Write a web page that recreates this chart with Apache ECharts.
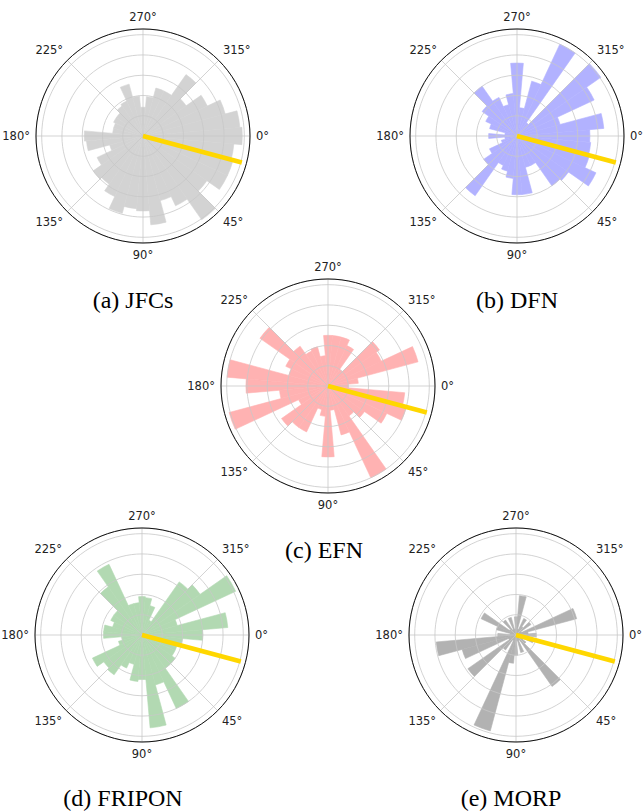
<!DOCTYPE html>
<html><head><meta charset="utf-8">
<script src="https://cdn.jsdelivr.net/npm/echarts@6/dist/echarts.min.js"></script>
<style>html,body{margin:0;padding:0;background:#fff}#c{width:643px;height:811px}</style>
</head><body><div id="c"></div>
<script>
// bin centres (degrees, clockwise from east)
const binAngles = [0,10,20,30,40,50,60,70,80,90,100,110,120,130,140,150,160,170,
                   180,190,200,210,220,230,240,250,260,270,280,290,300,310,320,330,340,350];
const angleTicks = [0,45,90,135,180,225,270,315];
// radial values per bin (grid ring = 1)
const jfcs   = [4.9,4.5,4.6,4.6,3.85,5.05,3.8,3.3,4.4,3.7,3.6,3.95,3.3,2.9,3.0,2.5,1.7,2.8,
                2.9,1.5,1.5,1.6,1.6,1.8,1.9,2.65,1.97,1.42,1.95,2.45,2.45,3.7,2.6,3.5,4.2,4.8];
const dfn    = [3.6,3.65,3.7,4.3,3.1,3.0,1.6,1.6,2.9,2.9,2.1,1.8,1.6,3.6,2.0,1.5,0.8,0.6,
                1.4,0.6,1.4,1.7,2.1,3.0,2.1,1.6,2.1,3.6,1.4,2.8,5.0,0.8,5.05,4.2,2.2,4.3];
const efn    = [1.0,3.8,4.0,3.2,2.2,1.8,5.0,2.5,1.2,3.5,1.5,1.2,2.5,2.5,2.8,1.6,5.05,2.4,
                4.05,5.0,2.0,2.3,4.1,2.4,1.9,2.0,1.5,2.5,2.5,2.5,2.2,1.0,3.1,2.9,4.6,1.5];
const fripon = [3.0,2.0,1.8,1.8,2.0,2.0,4.0,2.55,4.6,2.2,2.3,1.5,1.8,2.4,2.3,2.7,1.2,1.0,
                1.9,1.9,1.5,1.7,1.7,2.9,3.85,1.6,1.6,1.9,1.85,1.5,0.8,3.2,3.5,5.1,1.8,4.25];
const morp   = [1.0,0.3,0.9,0.4,0.6,3.1,0.3,0.9,0.3,1.0,1.4,4.9,0.3,0.9,2.9,0.4,2.75,3.95,
                0.9,0.3,1.0,1.9,0.4,0.9,0.3,0.9,0.3,0.9,1.95,0.3,0.9,0.5,0.9,0.3,3.1,0.6];
const meanDirection = [15];
const meanLength = [5.05];
const captions = ['(a) JFCs','(b) DFN','(c) EFN','(d) FRIPON','(e) MORP'];

const R = 107, RMAX = 5.28;
const panels = [
  {data: jfcs,   color:'#d3d3d3', center:[143,136], cap:[133,300]},
  {data: dfn,    color:'#b2b2ff', center:[517,136], cap:[517,300]},
  {data: efn,    color:'#ffb2b2', center:[328,386], cap:[324,550]},
  {data: fripon, color:'#b2d9b2', center:[142,635], cap:[123,798]},
  {data: morp,   color:'#b2b2b2', center:[516,635], cap:[511,798]}
];
const polar=[], angleAxis=[], radiusAxis=[], series=[], graphic=[];
panels.forEach((p,i)=>{
  const a = 2*i, b = 2*i+1;
  polar.push({center:p.center, radius:R});
  angleAxis.push({polarIndex:a, type:'category', data:binAngles, startAngle:5, clockwise:true,
    boundaryGap:true, axisLine:{show:false}, axisTick:{show:false}, axisLabel:{show:false}, splitLine:{show:false}});
  radiusAxis.push({polarIndex:a, type:'value', min:0, max:RMAX, axisLine:{show:false}, axisTick:{show:false},
    axisLabel:{show:false}, splitLine:{show:false}});
  series.push({type:'bar', coordinateSystem:'polar', polarIndex:a, data:p.data, barCategoryGap:'0%',
    itemStyle:{color:p.color, borderColor:p.color, borderWidth:0.6}, z:2, silent:true});
  polar.push({center:p.center, radius:R});
  angleAxis.push({polarIndex:b, type:'value', min:0, max:360, interval:45, startAngle:0, clockwise:true, z:3,
    axisLine:{lineStyle:{color:'#111', width:1}}, axisTick:{show:false},
    axisLabel:{margin:6, color:'#222', fontSize:11.5, fontFamily:'DejaVu Sans',
      formatter: v => (angleTicks.indexOf(v) >= 0 ? v + '°' : '')},
    splitLine:{lineStyle:{color:'#c8c8c8', width:0.8}}});
  radiusAxis.push({polarIndex:b, type:'value', min:0, max:RMAX, interval:1, z:3,
    axisLine:{show:false}, axisTick:{show:false}, axisLabel:{show:false},
    splitLine:{show:true, lineStyle:{color:'#c8c8c8', width:0.8}}});
  series.push({type:'line', coordinateSystem:'polar', polarIndex:b,
    data:[[0, meanDirection[0]], [meanLength[0], meanDirection[0]]],
    symbol:'none', lineStyle:{color:'#FFD700', width:4.5}, z:5, silent:true, animation:false});
  graphic.push({type:'text', x:p.cap[0], y:p.cap[1], silent:true,
    style:{text:captions[i], font:'24px "Liberation Serif"', fill:'#000',
      align:'center', verticalAlign:'middle', textAlign:'center', textVerticalAlign:'middle'}});
});
const chart = echarts.init(document.getElementById('c'), null, {renderer:'svg'});
chart.setOption({animation:false, polar, angleAxis, radiusAxis, series, graphic});
</script>
</body></html>
